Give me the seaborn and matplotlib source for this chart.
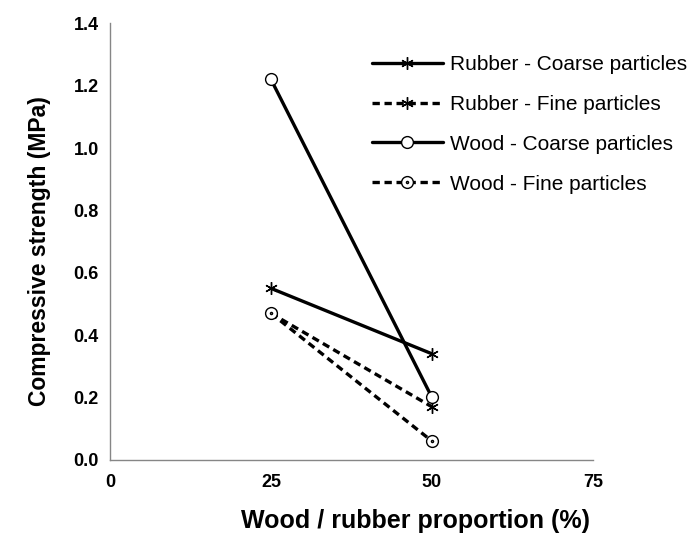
import matplotlib
matplotlib.use("Agg")
import matplotlib.pyplot as plt
from matplotlib.path import Path
import seaborn as sns
import pandas as pd

proportion = [25, 50]
rubber_coarse = [0.55, 0.34]
rubber_fine = [0.47, 0.17]
wood_coarse = [1.22, 0.20]
wood_fine = [0.47, 0.06]
series_names = ["Rubber - Coarse particles", "Rubber - Fine particles",
                "Wood - Coarse particles", "Wood - Fine particles"]
x_ticks = [0, 25, 50, 75]
y_ticks = [0.0, 0.2, 0.4, 0.6, 0.8, 1.0, 1.2, 1.4]


def main():
    sns.set_style("white")
    plt.rcParams["font.family"] = ["Liberation Sans", "DejaVu Sans"]
    plt.rcParams["text.color"] = "black"
    plt.rcParams["axes.labelcolor"] = "black"
    plt.rcParams["xtick.color"] = "black"
    plt.rcParams["ytick.color"] = "black"

    fig = plt.figure(figsize=(6.96, 5.41), dpi=100)
    ax = fig.add_axes([0.158, 0.150, 0.694, 0.807])

    # circle with a dot in the middle, like Excel's marker
    dot_circle = Path.make_compound_path(Path.unit_circle(),
                                         Path.circle((0, 0), 0.18))

    values = [rubber_coarse, rubber_fine, wood_coarse, wood_fine]
    markers = [(6, 2, 0), (6, 2, 0), "o", dot_circle]
    sizes = [9, 9, 8.5, 8.5]
    styles = ["-", (0, (2.2, 1.4)), "-", (0, (2.2, 1.4))]

    for name, vals, mk, ms, ls in zip(series_names, values, markers, sizes, styles):
        df = pd.DataFrame({"x": proportion, "y": vals})
        sns.lineplot(data=df, x="x", y="y", ax=ax, color="black", linewidth=2.4,
                     linestyle=ls, marker=mk, markersize=ms, markerfacecolor="white",
                     markeredgecolor="black", markeredgewidth=1.0, label=name)

    ax.set_xlim(0, 75)
    ax.set_ylim(0, 1.4)
    ax.set_xticks(x_ticks)
    ax.set_yticks(y_ticks)
    ax.set_yticklabels([f"{v:.1f}" for v in y_ticks])

    for side in ["top", "right"]:
        ax.spines[side].set_visible(False)
    for side in ["left", "bottom"]:
        ax.spines[side].set_color("#868686")
        ax.spines[side].set_linewidth(1.0)

    ax.tick_params(axis="both", which="major", direction="out", length=5,
                   width=1.0, color="#868686", labelsize=13)
    ax.tick_params(axis="x", pad=5)
    ax.tick_params(axis="y", pad=3)
    for lbl in ax.get_xticklabels() + ax.get_yticklabels():
        lbl.set_fontweight("bold")

    ax.set_xlabel("Wood / rubber proportion (%)", fontsize=18, fontweight="bold")
    ax.xaxis.set_label_coords(0.632, -0.112)
    ax.set_ylabel("Compressive strength (MPa)", fontsize=16.5, fontweight="bold")
    ax.yaxis.set_label_coords(-0.123, 0.478)

    ax.legend(loc="upper left", bbox_to_anchor=(372 / 696, 1 - 55 / 541),
              bbox_transform=fig.transFigure, frameon=False, fontsize=15,
              handlelength=3.4, handletextpad=0.35, labelspacing=1.0,
              borderpad=0, borderaxespad=0)

    plt.savefig("out.png", dpi=100)


if __name__ == "__main__":
    main()
